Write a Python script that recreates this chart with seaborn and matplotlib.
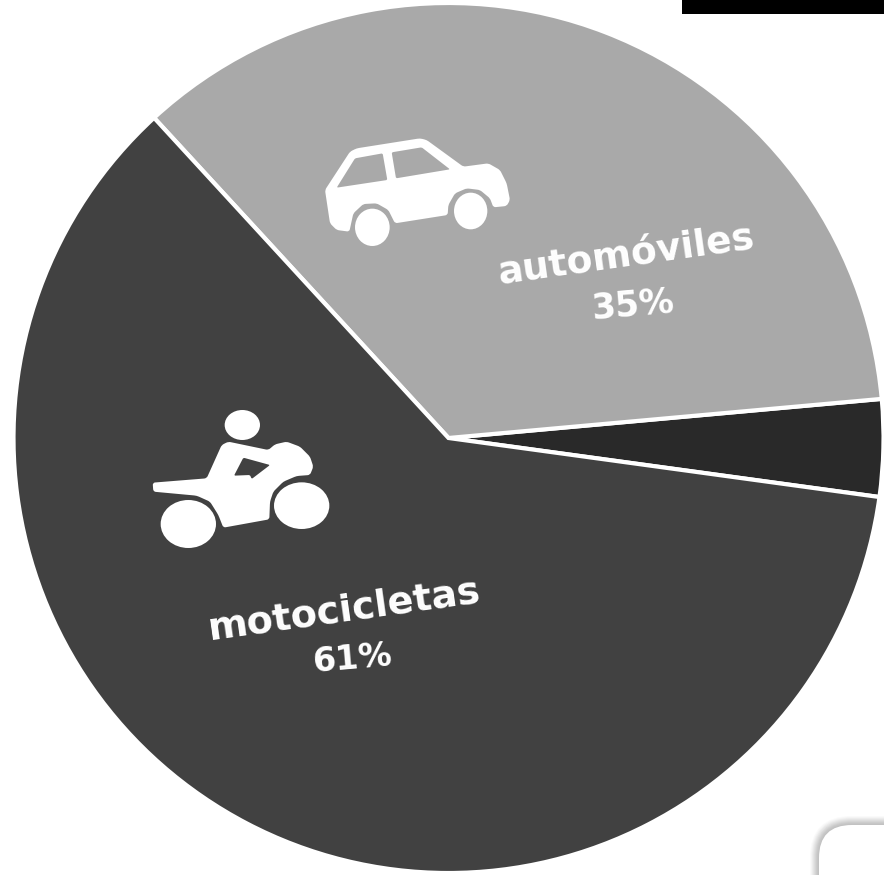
import matplotlib
matplotlib.use("Agg")
import matplotlib.pyplot as plt
import seaborn as sns
from matplotlib.patches import Ellipse, FancyBboxPatch, PathPatch, Rectangle
from matplotlib.path import Path

# Data
labels = ["otros", "automóviles", "motocicletas"]
shares = [3.6, 35.4, 61]
colors = ["#292929", "#a9a9a9", "#414141"]

W, H = 884, 875

sns.set_theme(style="white")
plt.rcParams["font.family"] = ["DejaVu Sans"]

fig = plt.figure(figsize=(W / 100, H / 100), dpi=100)
ax = fig.add_axes([0, 0, 1, 1])

ax.pie(
    shares,
    colors=sns.color_palette(colors),
    startangle=-7.8,
    center=(448.5, H - 438),
    radius=435,
    wedgeprops={"edgecolor": "white", "linewidth": 3},
)
ax.set_xlim(0, W)
ax.set_ylim(0, H)
ax.set_aspect("equal")
ax.axis("off")


# icon coordinates come from zoomed crops (3x, y down)
def to_xy(pts, ox, oy, scale=3):
    return [(ox + x / scale, H - (oy + y / scale)) for x, y in pts]


def add_ring(ring, verts, codes, d=2.5):
    # polygon with slightly rounded corners
    n = len(ring)
    for i in range(n):
        px, py = ring[i - 1]
        x, y = ring[i]
        qx, qy = ring[(i + 1) % n]
        l1 = max(((x - px) ** 2 + (y - py) ** 2) ** 0.5, 1e-6)
        l2 = max(((qx - x) ** 2 + (qy - y) ** 2) ** 0.5, 1e-6)
        a = min(d, l1 / 2) / l1
        b = min(d, l2 / 2) / l2
        start = (x + (px - x) * a, y + (py - y) * a)
        end = (x + (qx - x) * b, y + (qy - y) * b)
        verts.append(start)
        codes.append(Path.MOVETO if i == 0 else Path.LINETO)
        verts += [(x, y), end]
        codes += [Path.CURVE3, Path.CURVE3]
    verts.append(verts[-1])
    codes.append(Path.CLOSEPOLY)


def icon_path(outline, holes, ox, oy):
    verts, codes = [], []
    add_ring(to_xy(outline, ox, oy), verts, codes)
    for hole in holes:
        # holes need the opposite winding
        add_ring(to_xy(hole, ox, oy)[::-1], verts, codes, d=1.5)
    return Path(verts, codes)


def wheel(cx, cy, rx, ry, ox, oy):
    (x, y), = to_xy([(cx, cy)], ox, oy)
    ax.add_patch(Ellipse((x, y), 2 * rx / 3, 2 * ry / 3, color="white", lw=0, zorder=5))


# car icon
car_body = [(75, 210), (150, 95), (170, 85), (360, 55), (380, 60), (490, 140), (565, 130), (600, 150),
            (620, 190), (630, 240), (620, 258), (580, 262), (570, 235), (540, 210), (500, 205), (465, 220),
            (445, 255), (443, 285), (285, 310), (265, 270), (230, 250), (190, 252), (160, 280), (148, 335),
            (110, 330), (90, 310)]
car_win1 = [(110, 203), (165, 115), (248, 100), (262, 180)]
car_win2 = [(275, 97), (365, 82), (450, 148), (288, 175)]
ax.add_patch(PathPatch(icon_path(car_body, [car_win1, car_win2], 300, 120), fc="white", ec="none", zorder=5))
wheel(217, 322, 52, 56, 300, 120)
wheel(512, 273, 50, 55, 300, 120)

# motorcycle icon
moto_body = [(38, 263), (200, 250), (245, 150), (265, 140), (385, 165), (405, 148), (440, 140), (480, 155),
             (510, 185), (520, 215), (510, 240), (470, 243), (430, 260), (400, 290), (390, 320), (388, 373),
             (250, 398), (235, 360), (210, 320), (170, 302), (40, 290)]
moto_hole = [(310, 188), (390, 210), (335, 252), (330, 240), (282, 242)]
ax.add_patch(PathPatch(icon_path(moto_body, [moto_hole], 140, 395), fc="white", ec="none", zorder=5))
wheel(307, 90, 53, 45, 140, 395)
wheel(145, 387, 83, 72, 140, 395)
wheel(485, 332, 83, 70, 140, 395)

# labels
txt = dict(color="white", fontweight="bold", ha="center", va="center", rotation_mode="anchor", zorder=6)
ax.text(626, H - 256, "automóviles", fontsize=27, rotation=8, **txt)
ax.text(633, H - 305, "35%", fontsize=25, rotation=5, **txt)
ax.text(345, H - 610, "motocicletas", fontsize=27.5, rotation=8, **txt)
ax.text(353, H - 659, "61%", fontsize=24, rotation=5, **txt)

# page fragments around the chart
ax.add_patch(Rectangle((682, H - 14), 202, 14, color="black", lw=0, zorder=7))
glow = ["#fafafa", "#f4f4f4", "#ececec", "#e4e4e4", "#dcdcdc", "#d4d4d4", "#cccccc", "#c6c6c6", "#c2c2c2"]
for i, col in enumerate(glow):
    grow = 9 - i
    ax.add_patch(FancyBboxPatch((819 - grow, H - 825 - 300), 400 + grow, 300 + grow,
                                boxstyle="round,pad=0,rounding_size=%d" % (33 + grow),
                                fc=col, ec="none", zorder=1))
ax.add_patch(FancyBboxPatch((819, H - 825 - 300), 400, 300, boxstyle="round,pad=0,rounding_size=33",
                            fc="white", ec="none", zorder=2))

fig.savefig("out.png", dpi=100, facecolor="white")
